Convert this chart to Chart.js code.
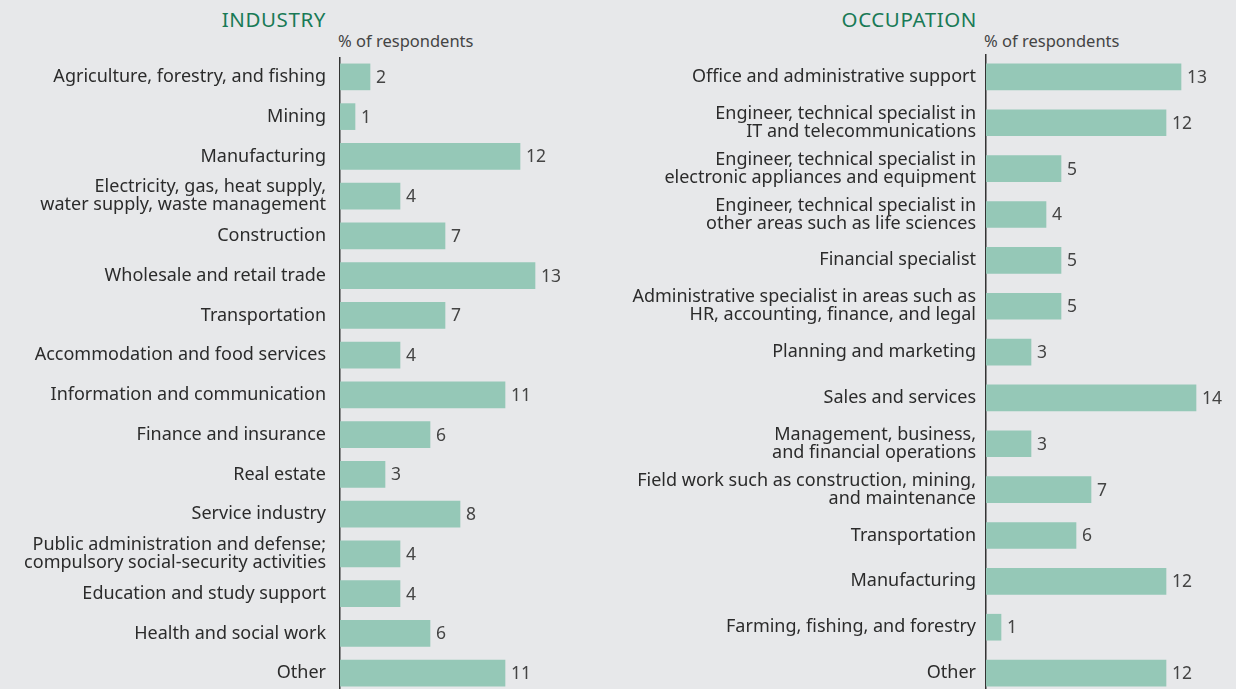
<!DOCTYPE html>
<html>
<head>
<meta charset="utf-8">
<script src="https://cdn.jsdelivr.net/npm/chart.js@4.4.1/dist/chart.umd.min.js"></script>
<style>
  body { margin: 0; background: #e7e8ea; width: 1236px; height: 689px; overflow: hidden; position: relative; font-family: "Noto Sans", sans-serif; }
  .title { position: absolute; top: 5px; color: #197a56; font-size: 20.5px; letter-spacing: 0.6px; }
  .unit { position: absolute; top: 29px; color: #444; font-size: 16.5px; }
  canvas { position: absolute; }
</style>
</head>
<body>
<div class="title" style="right: 910px;">INDUSTRY</div>
<div class="unit" style="left: 338px;">% of respondents</div>
<div class="title" style="right: 259px;">OCCUPATION</div>
<div class="unit" style="left: 984px;">% of respondents</div>
<canvas id="industryChart" width="580" height="636" style="left: 0; top: 57px;"></canvas>
<canvas id="occupationChart" width="606" height="642" style="left: 620px; top: 54px;"></canvas>
<script>
const industryLabels = [
  "Agriculture, forestry, and fishing",
  "Mining",
  "Manufacturing",
  ["Electricity, gas, heat supply,", "water supply, waste management"],
  "Construction",
  "Wholesale and retail trade",
  "Transportation",
  "Accommodation and food services",
  "Information and communication",
  "Finance and insurance",
  "Real estate",
  "Service industry",
  ["Public administration and defense;", "compulsory social-security activities"],
  "Education and study support",
  "Health and social work",
  "Other"
];
const industryValues = [2, 1, 12, 4, 7, 13, 7, 4, 11, 6, 3, 8, 4, 4, 6, 11];

const occupationLabels = [
  "Office and administrative support",
  ["Engineer, technical specialist in", "IT and telecommunications"],
  ["Engineer, technical specialist in", "electronic appliances and equipment"],
  ["Engineer, technical specialist in", "other areas such as life sciences"],
  "Financial specialist",
  ["Administrative specialist in areas such as", "HR, accounting, finance, and legal"],
  "Planning and marketing",
  "Sales and services",
  ["Management, business,", "and financial operations"],
  ["Field work such as construction, mining,", "and maintenance"],
  "Transportation",
  "Manufacturing",
  "Farming, fishing, and forestry",
  "Other"
];
const occupationValues = [13, 12, 5, 4, 5, 5, 3, 14, 3, 7, 6, 12, 1, 12];

const barColor = "#95c8b7";
const fontFamily = "'Noto Sans', sans-serif";

// numbers at the end of each bar
const valueLabels = {
  id: "valueLabels",
  afterDatasetsDraw(chart) {
    const ctx = chart.ctx;
    const meta = chart.getDatasetMeta(0);
    const values = chart.data.datasets[0].data;
    ctx.save();
    ctx.font = "17.5px " + fontFamily;
    ctx.fillStyle = "#444";
    ctx.textBaseline = "middle";
    meta.data.forEach((bar, i) => {
      ctx.fillText(values[i], bar.x + 6, bar.y + 1);
    });
    ctx.restore();
  }
};

function drawChart(id, labels, values, axisWidth, labelGap) {
  const ctx = document.getElementById(id).getContext("2d");
  return new Chart(ctx, {
    type: "bar",
    data: {
      labels: labels,
      datasets: [
        {
          data: values,
          backgroundColor: barColor,
          borderWidth: 0,
          barThickness: 26,
        },
      ],
    },
    options: {
      indexAxis: "y",
      responsive: false,
      animation: false,
      layout: { padding: 0 },
      plugins: {
        legend: { display: false },
        tooltip: { enabled: false },
      },
      scales: {
        x: { display: false, min: 0, max: 16 },
        y: {
          grid: { display: false, drawTicks: false },
          border: { display: true, color: "#333", width: 1.5 },
          ticks: {
            color: "#2b2b2b",
            font: { family: fontFamily, size: 18, lineHeight: 1.0 },
            padding: labelGap,
            autoSkip: false,
          },
          afterFit(scale) {
            scale.width = axisWidth;
            scale.paddingTop = 0;
            scale.paddingBottom = 0;
          },
        },
      },
    },
    plugins: [valueLabels],
  });
}

drawChart("industryChart", industryLabels, industryValues, 340, 14);
drawChart("occupationChart", occupationLabels, occupationValues, 366, 10);
</script>
</body>
</html>
